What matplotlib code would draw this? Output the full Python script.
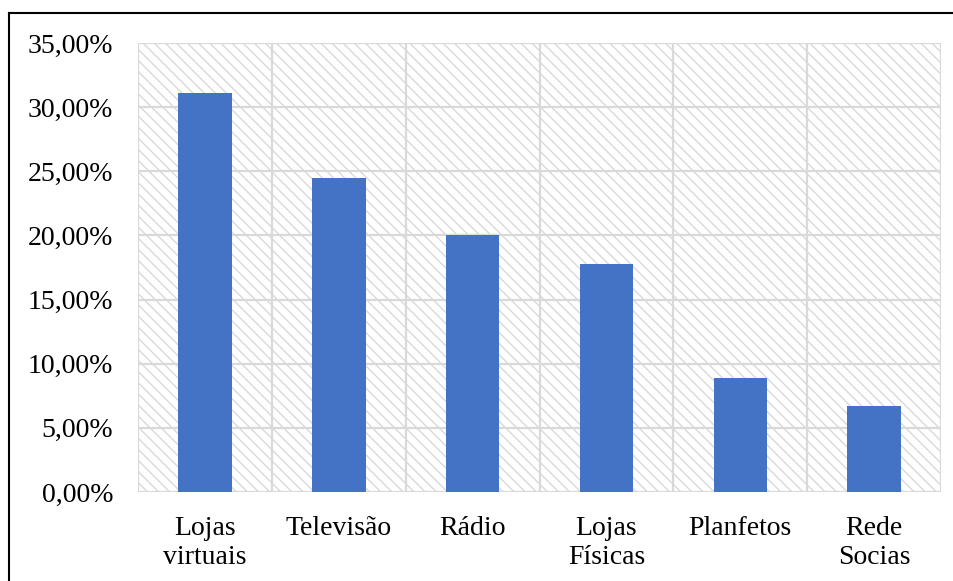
import matplotlib
matplotlib.use("Agg")
import matplotlib.pyplot as plt
from matplotlib.lines import Line2D
from matplotlib.ticker import FuncFormatter
import numpy as np

categorias = ["Lojas\nvirtuais", "Televisão", "Rádio", "Lojas\nFísicas", "Planfetos", "Rede\nSocias"]
valores = [31.11, 24.44, 20.00, 17.78, 8.89, 6.67]
yticks = [0, 5, 10, 15, 20, 25, 30, 35]

plt.rcParams['font.family'] = ['Liberation Serif', 'DejaVu Serif']
plt.rcParams['hatch.color'] = '#d9d9d9'
plt.rcParams['hatch.linewidth'] = 1.0

cinza = '#d9d9d9'
azul = '#4472c4'

fig = plt.figure(figsize=(9.54, 5.81), dpi=100)
ax = fig.add_axes([0.1447, 0.1532, 0.8417, 0.7728])

x = np.arange(len(categorias))
ax.set_xlim(-0.5, len(categorias) - 0.5)
ax.set_ylim(0, 35)

# fundo hachurado da area do grafico
ax.fill_between([-0.5, len(categorias) - 0.5], 0, 35, facecolor='white',
                edgecolor=cinza, hatch='\\\\\\', linewidth=0, zorder=0)

# grade horizontal e vertical (entre categorias)
for v in yticks:
    ax.axhline(v, color=cinza, lw=1.6, zorder=1)
for b in np.arange(-0.5, len(categorias), 1.0):
    ax.axvline(b, color=cinza, lw=1.6, zorder=1)

ax.bar(x, valores, width=0.40, color=azul, zorder=2)

ax.set_yticks(yticks)
ax.yaxis.set_major_formatter(FuncFormatter(lambda v, p: '{:.2f}%'.format(v).replace('.', ',')))
ax.set_xticks(x)
ax.set_xticklabels(categorias, linespacing=1.25)
ax.tick_params(axis='both', length=0, labelsize=20, colors='black')
ax.tick_params(axis='y', pad=18)
ax.tick_params(axis='x', pad=17)

for s in ax.spines.values():
    s.set_visible(False)

# moldura externa (topo e esquerda)
W, H = 954.0, 581.0
fig.add_artist(Line2D([9 / W, 9 / W], [0, 1 - 13 / H], color='black', lw=1.5, transform=fig.transFigure))
fig.add_artist(Line2D([9 / W, 1], [1 - 13 / H, 1 - 13 / H], color='black', lw=1.5, transform=fig.transFigure))

fig.savefig('out.png', dpi=100)
